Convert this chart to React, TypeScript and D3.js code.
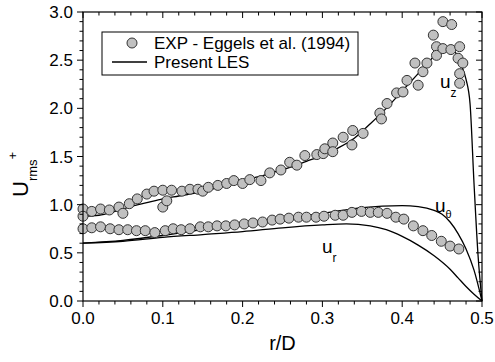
import React from "react";
import * as d3 from "d3";

// ---- Data ----
const xTicks = [0.0, 0.1, 0.2, 0.3, 0.4, 0.5];
const yTicks = [0.0, 0.5, 1.0, 1.5, 2.0, 2.5, 3.0];

// Present LES (lines)
const lesR_z = [0, 0.02, 0.04, 0.06, 0.08, 0.10, 0.12, 0.14, 0.16, 0.18, 0.20, 0.22, 0.24, 0.26, 0.28, 0.30, 0.32, 0.34, 0.36, 0.38, 0.40, 0.42, 0.44, 0.45, 0.455, 0.46, 0.465, 0.47, 0.475, 0.48, 0.485, 0.49, 0.495, 0.5];
const lesUz = [0.88, 0.89, 0.93, 0.98, 1.02, 1.06, 1.09, 1.12, 1.16, 1.20, 1.25, 1.29, 1.34, 1.39, 1.45, 1.51, 1.59, 1.69, 1.84, 2.00, 2.18, 2.36, 2.54, 2.61, 2.63, 2.63, 2.60, 2.53, 2.43, 2.30, 2.05, 1.22, 0.48, 0];

const lesR_t = [0, 0.05, 0.10, 0.15, 0.20, 0.25, 0.30, 0.35, 0.40, 0.42, 0.44, 0.45, 0.46, 0.47, 0.48, 0.49, 0.5];
const lesUt = [0.60, 0.63, 0.68, 0.74, 0.80, 0.86, 0.91, 0.97, 0.99, 0.98, 0.94, 0.90, 0.82, 0.70, 0.54, 0.32, 0];

const lesR_r = [0, 0.05, 0.10, 0.15, 0.20, 0.25, 0.30, 0.33, 0.36, 0.38, 0.40, 0.42, 0.44, 0.46, 0.47, 0.48, 0.49, 0.5];
const lesUr = [0.60, 0.62, 0.66, 0.69, 0.72, 0.76, 0.79, 0.80, 0.78, 0.74, 0.67, 0.58, 0.47, 0.33, 0.24, 0.15, 0.07, 0];

// EXP - Eggels et al. (1994) (circles)
const expR_z = [0, 0, 0.011, 0.022, 0.033, 0.045, 0.05, 0.058, 0.068, 0.08, 0.089, 0.1, 0.1, 0.105, 0.111, 0.124, 0.134, 0.144, 0.15, 0.157, 0.169, 0.18, 0.189, 0.2, 0.209, 0.223, 0.234, 0.248, 0.259, 0.268, 0.278, 0.293, 0.301, 0.303, 0.313, 0.313, 0.326, 0.337, 0.338, 0.351, 0.372, 0.374, 0.381, 0.393, 0.401, 0.406, 0.416, 0.42, 0.426, 0.431, 0.439, 0.443, 0.443, 0.451, 0.451, 0.461, 0.462, 0.47, 0.472, 0.472, 0.472, 0.476];
const expUz = [0.955, 0.88, 0.93, 0.955, 0.945, 0.975, 0.91, 1.01, 1.06, 1.11, 1.14, 1.15, 0.975, 1.04, 1.15, 1.14, 1.16, 1.16, 1.14, 1.18, 1.20, 1.22, 1.25, 1.22, 1.26, 1.25, 1.33, 1.36, 1.44, 1.41, 1.51, 1.52, 1.53, 1.58, 1.64, 1.55, 1.70, 1.62, 1.77, 1.74, 1.95, 1.89, 2.05, 2.16, 2.17, 2.29, 2.47, 2.24, 2.38, 2.47, 2.76, 2.64, 2.55, 2.90, 2.62, 2.61, 2.87, 2.52, 2.64, 2.36, 2.26, 2.47];

const expR_t = [0, 0.011, 0.022, 0.034, 0.045, 0.056, 0.067, 0.078, 0.09, 0.103, 0.113, 0.123, 0.134, 0.147, 0.157, 0.168, 0.179, 0.19, 0.202, 0.213, 0.225, 0.237, 0.247, 0.258, 0.27, 0.28, 0.292, 0.302, 0.316, 0.326, 0.337, 0.349, 0.36, 0.37, 0.381, 0.392, 0.402, 0.414, 0.426, 0.437, 0.449, 0.46, 0.471];
const expUt = [0.75, 0.76, 0.77, 0.75, 0.74, 0.74, 0.73, 0.73, 0.71, 0.73, 0.75, 0.74, 0.75, 0.77, 0.77, 0.78, 0.78, 0.79, 0.80, 0.81, 0.82, 0.84, 0.85, 0.86, 0.87, 0.87, 0.87, 0.88, 0.89, 0.89, 0.92, 0.93, 0.92, 0.92, 0.91, 0.87, 0.85, 0.78, 0.73, 0.68, 0.62, 0.57, 0.54];

const legendLabels = ["EXP - Eggels et al. (1994)", "Present LES"];

export default function App() {
  const W = 495, H = 362;
  const left = 83, right = 482, top = 12, bottom = 301;
  const x = d3.scaleLinear().domain([0, 0.5]).range([left, right]);
  const y = d3.scaleLinear().domain([0, 3]).range([bottom, top]);
  const font = "'Liberation Sans', Arial, sans-serif";

  const mkLine = (rs: number[], vs: number[]) =>
    d3.line<number>().x((_, i) => x(rs[i])).y((v) => y(v)).curve(d3.curveMonotoneX)(vs) || "";

  const xMinor = d3.range(0, 0.5001, 0.02).filter((v) => Math.abs(v * 10 - Math.round(v * 10)) > 1e-6);
  const yMinor = d3.range(0, 3.0001, 0.1).filter((v) => Math.abs(v * 2 - Math.round(v * 2)) > 1e-6);

  const major = 6, minor = 3.5;
  const circles = [
    ...expR_z.map((r, i) => [r, expUz[i]]),
    ...expR_t.map((r, i) => [r, expUt[i]]),
  ];

  return (
    <svg width={W} height={H} style={{ position: "absolute", left: 0, top: 0, background: "#fff" }} fontFamily={font}>
      <rect x={0} y={0} width={W} height={H} fill="#fff" />
      {/* lines */}
      <g fill="none" stroke="#000" strokeWidth={1.3}>
        <path d={mkLine(lesR_z, lesUz)} />
        <path d={mkLine(lesR_t, lesUt)} />
        <path d={mkLine(lesR_r, lesUr)} />
      </g>
      {/* circles */}
      <g fill="#c0c0c0" stroke="#333" strokeWidth={1}>
        {circles.map((c, i) => (
          <circle key={i} cx={x(c[0])} cy={y(c[1])} r={5} />
        ))}
      </g>
      {/* frame */}
      <rect x={left} y={top} width={right - left} height={bottom - top} fill="none" stroke="#000" strokeWidth={1.2} />
      {/* ticks */}
      <g stroke="#000" strokeWidth={1}>
        {xTicks.map((t) => (
          <g key={"xt" + t}>
            <line x1={x(t)} x2={x(t)} y1={bottom} y2={bottom + major} />
            <line x1={x(t)} x2={x(t)} y1={top} y2={top + major} />
          </g>
        ))}
        {xMinor.map((t) => (
          <g key={"xm" + t}>
            <line x1={x(t)} x2={x(t)} y1={bottom} y2={bottom + minor} />
            <line x1={x(t)} x2={x(t)} y1={top} y2={top + minor} />
          </g>
        ))}
        {yTicks.map((t) => (
          <g key={"yt" + t}>
            <line x1={left - major} x2={left} y1={y(t)} y2={y(t)} />
            <line x1={right - major} x2={right} y1={y(t)} y2={y(t)} />
          </g>
        ))}
        {yMinor.map((t) => (
          <g key={"ym" + t}>
            <line x1={left - minor} x2={left} y1={y(t)} y2={y(t)} />
            <line x1={right - minor} x2={right} y1={y(t)} y2={y(t)} />
          </g>
        ))}
      </g>
      {/* tick labels */}
      <g fontSize={17} fill="#000">
        {xTicks.map((t) => (
          <text key={"xl" + t} x={x(t)} y={324} textAnchor="middle">{t.toFixed(1)}</text>
        ))}
        {yTicks.map((t) => (
          <text key={"yl" + t} x={left - 10} y={y(t) + 6} textAnchor="end">{t.toFixed(1)}</text>
        ))}
      </g>
      {/* axis titles */}
      <text x={(left + right) / 2} y={350} fontSize={20} textAnchor="middle">r/D</text>
      <text transform="translate(28,197) rotate(-90)" fontSize={22}>
        U<tspan fontSize={13} dy={9}>rms</tspan><tspan fontSize={13} dy={-20.5}>+</tspan>
      </text>
      {/* curve labels */}
      <text x={440} y={88} fontSize={19}>u<tspan fontSize={12} dy={9}>z</tspan></text>
      <text x={435} y={212} fontSize={19}>u<tspan fontSize={11} dy={6}>θ</tspan></text>
      <text x={322} y={253} fontSize={19}>u<tspan fontSize={12} dy={9}>r</tspan></text>
      {/* legend */}
      <rect x={102} y={32} width={256} height={43} fill="#fff" stroke="#000" strokeWidth={1} />
      <circle cx={132} cy={43} r={5} fill="#c0c0c0" stroke="#333" strokeWidth={1} />
      <text x={154} y={49} fontSize={17}>{legendLabels[0]}</text>
      <line x1={112} x2={147} y1={62} y2={62} stroke="#000" strokeWidth={1.3} />
      <text x={154} y={68} fontSize={17}>{legendLabels[1]}</text>
    </svg>
  );
}
